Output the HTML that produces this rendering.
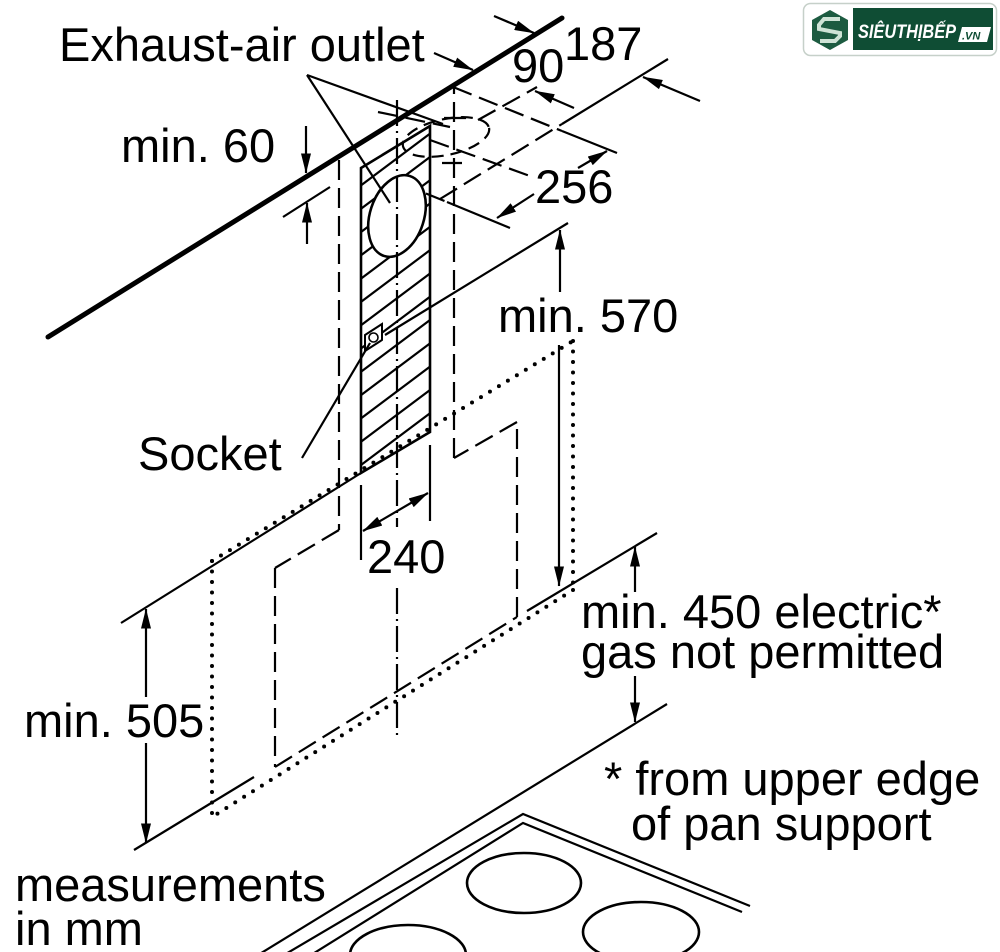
<!DOCTYPE html>
<html><head><meta charset="utf-8"><style>
html,body{margin:0;padding:0;background:#fff;}
body{width:1000px;height:952px;overflow:hidden;}
svg{display:block;}
text{font-family:"Liberation Sans",Arial,sans-serif;}
</style></head><body>
<svg width="1000" height="952" viewBox="0 0 1000 952" xmlns="http://www.w3.org/2000/svg">
<defs>
<marker id="a" viewBox="0 0 20 10" refX="19.5" refY="5" markerWidth="20" markerHeight="10" markerUnits="userSpaceOnUse" orient="auto-start-reverse"><path d="M0,0 L20,5 L0,10 z" fill="#000"/></marker>
<clipPath id="rc"><polygon points="361,168 430,126 430,432 361,473"/></clipPath>
</defs>
<rect width="1000" height="952" fill="#fff"/>

<g stroke="#000" fill="none" stroke-width="2.2">
<!-- hood dashed outline -->
<g stroke-dasharray="20 8">
<line x1="339" y1="160" x2="339" y2="530"/>
<line x1="339" y1="530" x2="275" y2="568"/>
<line x1="275" y1="568" x2="275" y2="767"/>
<line x1="275" y1="767" x2="517" y2="617"/>
<line x1="517" y1="617" x2="517" y2="422"/>
<line x1="517" y1="422" x2="454" y2="458"/>
<line x1="454" y1="458" x2="454" y2="87"/>
<!-- top duct dashed lines -->
<line x1="453" y1="87" x2="562" y2="131"/>
<line x1="440" y1="199" x2="562" y2="124"/>
<line x1="478" y1="120" x2="537" y2="87"/>
<line x1="400" y1="183" x2="447" y2="202"/>
<line x1="378" y1="112" x2="450" y2="127"/>
<line x1="430" y1="140" x2="530" y2="176"/>
<ellipse cx="446" cy="137" rx="44" ry="18" transform="rotate(-12 446 137)" stroke-dasharray="12 7"/>
</g>
<line x1="444" y1="118" x2="466" y2="118"/>
<line x1="442" y1="163" x2="462" y2="163"/>

<!-- solid extension lines top -->
<line x1="562" y1="131" x2="617" y2="153"/>
<line x1="562" y1="124" x2="668" y2="59"/>
<line x1="447" y1="202" x2="510" y2="228"/>
<line x1="283" y1="217" x2="330" y2="187"/>

<!-- chimney hatched rect -->
<g clip-path="url(#rc)" stroke-width="2.2">
<line x1="340" y1="480.75" x2="450" y2="398.25"/>
<line x1="340" y1="457.45" x2="450" y2="374.95"/>
<line x1="340" y1="434.15" x2="450" y2="351.65"/>
<line x1="340" y1="410.85" x2="450" y2="328.35"/>
<line x1="340" y1="387.55" x2="450" y2="305.05"/>
<line x1="340" y1="364.25" x2="450" y2="281.75"/>
<line x1="340" y1="340.95" x2="450" y2="258.45"/>
<line x1="340" y1="317.65" x2="450" y2="235.15"/>
<line x1="340" y1="294.35" x2="450" y2="211.85"/>
<line x1="340" y1="271.05" x2="450" y2="188.55"/>
<line x1="340" y1="247.75" x2="450" y2="165.25"/>
<line x1="340" y1="224.45" x2="450" y2="141.95"/>
<line x1="340" y1="201.15" x2="450" y2="118.65"/>
</g>
<polygon points="361,168 430,126 430,432 361,473" stroke-width="2.6"/>
<ellipse cx="397" cy="216" rx="27" ry="42" transform="rotate(18 397 216)" fill="#fff" stroke-width="2.6"/>
<!-- socket -->
<polygon points="365,335 382,324 382,340 365,351" fill="#fff" stroke-width="2"/>
<circle cx="373.5" cy="337.5" r="4.5" stroke-width="1.6"/>

<!-- center dash-dot -->
<g stroke-dasharray="26 5 2 5">
<line x1="397" y1="100" x2="397" y2="527"/>
<line x1="397" y1="588" x2="397" y2="735"/>
</g>

<!-- wall thick line -->
<line x1="48" y1="337" x2="562" y2="18" stroke-width="5" stroke-linecap="round"/>

<!-- leaders -->
<line x1="307" y1="75" x2="390" y2="203"/>
<line x1="307" y1="75" x2="443" y2="124"/>
<line x1="302" y1="458" x2="370" y2="343"/>
<line x1="385" y1="335" x2="568" y2="223"/>

<!-- hood lines -->
<line x1="121" y1="623" x2="361" y2="473"/>
<line x1="134" y1="850" x2="254" y2="777"/>
<line x1="527" y1="611" x2="657" y2="533"/>

<!-- 240 extension -->
<line x1="361" y1="485" x2="361" y2="560"/>
<line x1="430" y1="445" x2="430" y2="521"/>

<!-- dotted -->
<g stroke-width="4" stroke-linecap="round" stroke-dasharray="0 10.5">
<line x1="212" y1="561" x2="573" y2="341"/>
<line x1="573" y1="341" x2="573" y2="590"/>
<line x1="573" y1="590" x2="212" y2="817"/>
<line x1="212" y1="561" x2="212" y2="817"/>
</g>

<!-- cooktop -->
<line x1="667" y1="704" x2="258" y2="955"/>
<polyline points="284,955 523,814 750,906"/>
<polyline points="311,955 523,823 742,912"/>
<g stroke-width="2.6">
<ellipse cx="524" cy="883" rx="57" ry="30"/>
<ellipse cx="641" cy="932" rx="58" ry="30"/>
<ellipse cx="408" cy="955" rx="58" ry="30"/>
</g>

<!-- dimension arrows -->
<g stroke-width="2.2" marker-end="url(#a)">
<line x1="306" y1="126" x2="306" y2="173"/>
<line x1="307" y1="244" x2="307" y2="203"/>
<line x1="494" y1="16" x2="534" y2="33"/>
<line x1="700" y1="101" x2="643" y2="77"/>
<line x1="434" y1="53" x2="473" y2="70"/>
<line x1="574" y1="108" x2="535" y2="91"/>
<line x1="578" y1="168" x2="607" y2="151"/>
<line x1="534" y1="194" x2="497" y2="218"/>
<line x1="560" y1="292" x2="560" y2="230"/>
<line x1="559" y1="345" x2="559" y2="586"/>
<line x1="635" y1="592" x2="635" y2="547"/>
<line x1="635" y1="676" x2="635" y2="722"/>
<line x1="146" y1="697" x2="146" y2="609"/>
<line x1="146" y1="743" x2="146" y2="843"/>
</g>
<line x1="363" y1="531" x2="428" y2="493" marker-start="url(#a)" marker-end="url(#a)"/>
</g>

<!-- labels -->
<g font-size="47" fill="#000">
<text x="59" y="61">Exhaust-air outlet</text>
<text x="564" y="60">187</text>
<text x="512" y="82">90</text>
<text x="121" y="162">min. 60</text>
<text x="535" y="203">256</text>
<text x="498" y="332">min. 570</text>
<text x="138" y="470">Socket</text>
<text x="367" y="573">240</text>
<text x="581" y="628">min. 450 electric*</text>
<text x="581" y="668">gas not permitted</text>
<text x="24" y="737">min. 505</text>
<text x="604" y="795">* from upper edge</text>
<text x="631" y="840">of pan support</text>
<text x="15" y="901">measurements</text>
<text x="15" y="945">in mm</text>
</g>

<!-- logo -->
<rect x="803.5" y="3.5" width="193" height="52" rx="7" fill="#fff" stroke="#c6d0c9" stroke-width="1.5"/>
<polygon points="830,10 848,20 848,40 830,50 812,40 812,20" fill="#1d5b41"/>
<path d="M840,19 L824,19 L819,25 L819,29 L840,33 L840,36 L835,41 L820,41" fill="none" stroke="#cfe3d6" stroke-width="4"/>
<rect x="853" y="8" width="140" height="42" fill="#0f4d34"/>
<text x="858" y="38" font-size="19" font-weight="bold" font-style="italic" fill="#fff" textLength="98" lengthAdjust="spacingAndGlyphs">SIÊUTHỊBẾP</text>
<polygon points="962,27 991,27 987,42 958,42" fill="#fff"/>
<text x="962" y="39.5" font-size="11" font-weight="bold" font-style="italic" fill="#0f4d34">.VN</text>
</svg>
</body></html>
